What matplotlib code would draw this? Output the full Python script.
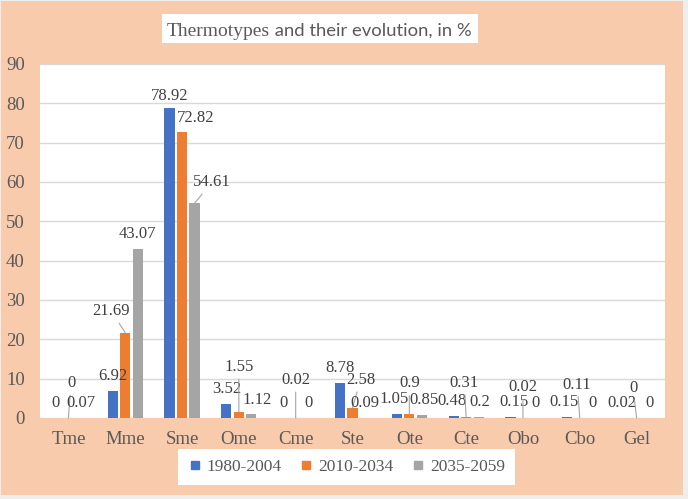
import numpy as np
import matplotlib.pyplot as plt
from matplotlib.patches import Rectangle
from matplotlib.lines import Line2D

# data
categories = ['Tme', 'Mme', 'Sme', 'Ome', 'Cme', 'Ste', 'Ote', 'Cte', 'Obo', 'Cbo', 'Gel']
series_names = ['1980-2004', '2010-2034', '2035-2059']
p1980 = [0, 6.92, 78.92, 3.52, 0, 8.78, 1.05, 0.48, 0.15, 0.15, 0.02]
p2010 = [0, 21.69, 72.82, 1.55, 0.02, 2.58, 0.9, 0.31, 0.02, 0.11, 0]
p2035 = [0.07, 43.07, 54.61, 1.12, 0, 0.09, 0.85, 0.2, 0, 0, 0]
y_ticks = list(range(0, 100, 10))

colors = ['#4472C4', '#ED7D31', '#A5A5A5']
peach = '#F8CBAD'
txt = '#595959'
lbl = '#404040'
serif = 'Liberation Serif'

# label nudges (pixels): (category, series) -> (dx, dy, leader line)
shift = {
    (0, 1): (2.6, 35, True),
    (1, 1): (-14, 21.5, True),
    (2, 0): (0, 12, False),
    (2, 1): (14, 14, False),
    (2, 2): (17.5, 21, True),
    (3, 1): (0, 45, True),
    (3, 2): (6, 14, False),
    (4, 1): (0, 38, True),
    (5, 1): (8, 28, True),
    (6, 0): (-2.5, 15, False),
    (6, 1): (0, 31, True),
    (6, 2): (2.5, 15, False),
    (7, 0): (-1.5, 15, False),
    (7, 1): (-2, 34, True),
    (7, 2): (1.5, 15, False),
    (8, 0): (4, 15, False),
    (8, 1): (0, 31, True),
    (9, 0): (-3, 15, False),
    (9, 1): (-2.6, 33, True),
    (10, 0): (-2, 15, False),
    (10, 1): (-3.4, 30, True),
}

fig = plt.figure(figsize=(6.88, 4.99), dpi=100)
fig.patch.set_facecolor('#EEEEEE')
fig.patches.append(Rectangle((1 / 688, 4 / 499), 682 / 688, 494 / 499,
                             transform=fig.transFigure, facecolor=peach,
                             edgecolor='none', zorder=-2))

ax = fig.add_axes([40 / 688, (499 - 418) / 499, 625 / 688, 354 / 499])
ax.set_facecolor('white')

x = np.arange(len(categories))
offsets = [-0.22, 0, 0.22]
width = 0.18
px2pt = 0.72

for s, vals in enumerate([p1980, p2010, p2035]):
    ax.bar(x + offsets[s], vals, width, color=colors[s], zorder=3)
    for i, v in enumerate(vals):
        dx, dy, leader = shift.get((i, s), (0, 15, False))
        arrow = dict(arrowstyle='-', color='#A6A6A6', lw=0.8,
                     shrinkA=1, shrinkB=0) if leader else None
        ax.annotate(f'{v:g}', xy=(x[i] + offsets[s], v),
                    xytext=(dx * px2pt, dy * px2pt), textcoords='offset points',
                    ha='center', va='center', fontsize=12, family=serif,
                    color=lbl, arrowprops=arrow, zorder=4)

ax.set_xlim(-0.5, len(categories) - 0.5)
ax.set_ylim(0, 90)
ax.set_yticks(y_ticks)
ax.set_xticks(x)
ax.set_xticklabels(categories)
ax.grid(axis='y', color='#D9D9D9', lw=1, zorder=0)
ax.set_axisbelow(True)
for sp in ax.spines.values():
    sp.set_visible(False)
ax.tick_params(axis='both', length=0, labelsize=13.5, labelcolor=txt)
ax.tick_params(axis='y', pad=11)
ax.tick_params(axis='x', pad=9)
for t in ax.get_xticklabels() + ax.get_yticklabels():
    t.set_family(serif)

# title in a white box, two fonts like the original
fig.patches.append(Rectangle((162 / 688, (499 - 43) / 499), 316 / 688, 29 / 499,
                             transform=fig.transFigure, facecolor='white',
                             edgecolor='none', zorder=1))
t1 = fig.text(167 / 688, (499 - 36) / 499, 'Thermotypes', family=serif,
              fontsize=14, color=txt, va='baseline', ha='left', zorder=2)
r = fig.canvas.get_renderer()
bb = t1.get_window_extent(renderer=r)
fig.text(bb.x1 / fig.bbox.width, (499 - 36) / 499, ' and their evolution, in %',
         family='Lato', fontsize=13.3, color=txt, va='baseline', ha='left', zorder=2)

handles = [Line2D([], [], marker='s', ls='none', color=c, markersize=6) for c in colors]
leg = fig.legend(handles, series_names, loc='center', bbox_to_anchor=(0.5037, 0.064),
                 ncol=3, frameon=True, fancybox=False, edgecolor='none',
                 facecolor='white', framealpha=1, handlelength=0.8,
                 handletextpad=0.3, columnspacing=1.0, borderpad=0.55,
                 prop={'family': serif, 'size': 12.5})
for t in leg.get_texts():
    t.set_color(txt)

fig.savefig('out.png', dpi=100, facecolor=fig.get_facecolor())
